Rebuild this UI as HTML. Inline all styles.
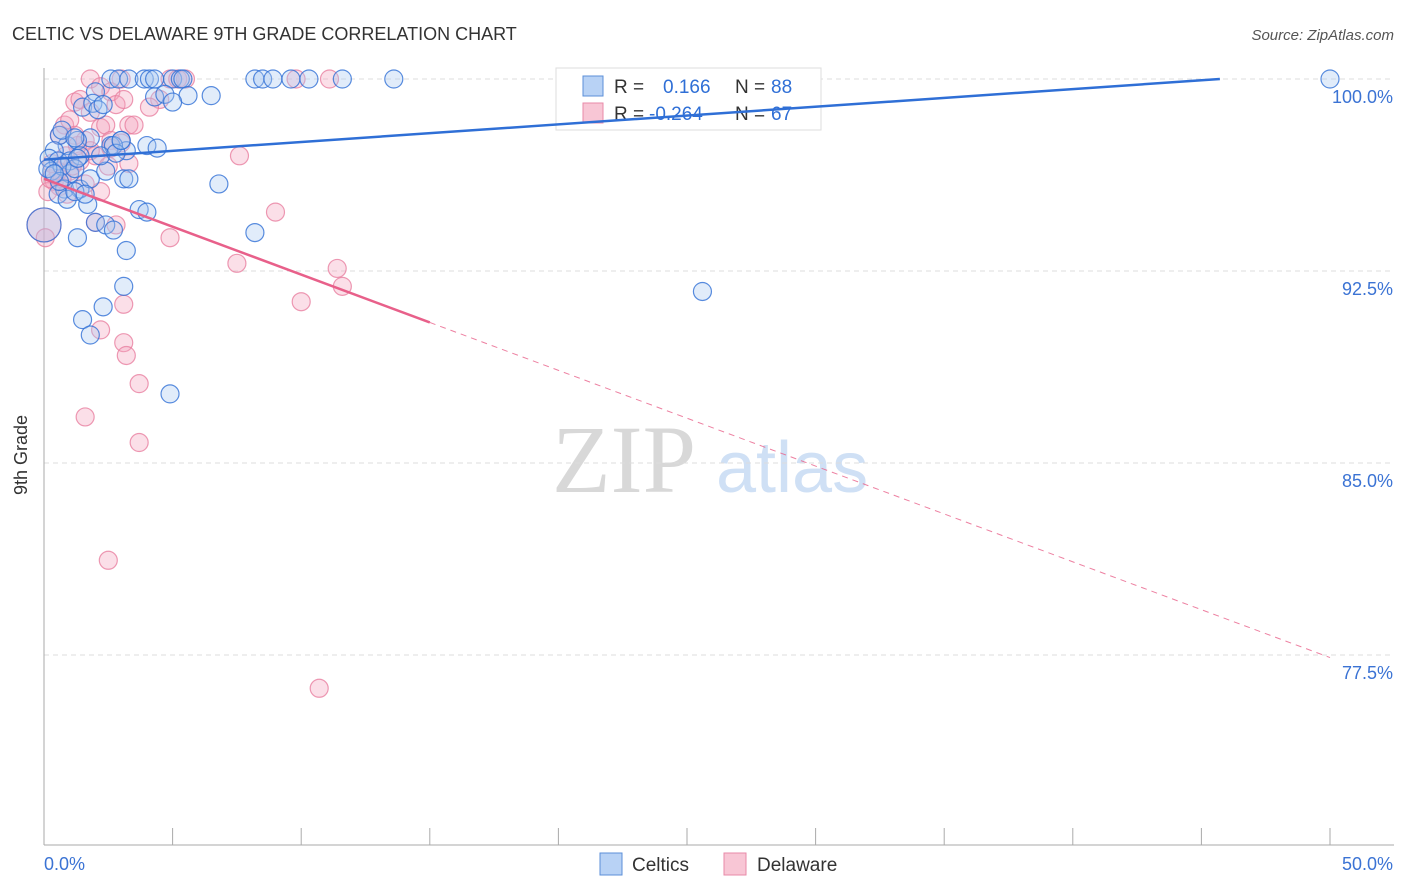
<!DOCTYPE html>
<html><head><meta charset="utf-8"><style>
body{margin:0;background:#fff;font-family:"Liberation Sans",sans-serif}
svg{display:block}
</style></head><body>
<svg id="chart" width="1406" height="892">
<text x="12" y="40" font-size="18" fill="#333">CELTIC VS DELAWARE 9TH GRADE CORRELATION CHART</text>
<text x="1394" y="40" font-size="15" fill="#555" font-style="italic" text-anchor="end">Source: ZipAtlas.com</text>
<g>
<text x="552" y="492" font-family="Liberation Serif,serif" font-size="96" fill="#d8d8d8">ZIP</text>
<text x="716" y="492" font-size="72" fill="#cfe0f5">atlas</text>
</g>
<g id="grid"></g>
<g id="axes"></g>
<g>
<rect x="556" y="68" width="265" height="62" fill="#fff" stroke="#ddd"/>
<rect x="583" y="76" width="20" height="20" fill="#b8d2f5" stroke="#5b8fd8"/>
<rect x="583" y="103" width="20" height="20" fill="#f8c6d5" stroke="#e88aa8"/>
<text x="614" y="93" font-size="19" fill="#333">R =</text>
<text x="663" y="93" font-size="19" fill="#2f6fd6">0.166</text>
<text x="735" y="93" font-size="19" fill="#333">N =</text>
<text x="771" y="93" font-size="19" fill="#2f6fd6">88</text>
<text x="614" y="120" font-size="19" fill="#333">R =</text>
<text x="649" y="120" font-size="19" fill="#2f6fd6">-0.264</text>
<text x="735" y="120" font-size="19" fill="#333">N =</text>
<text x="771" y="120" font-size="19" fill="#2f6fd6">67</text>
</g>
<g id="pts"></g>
<g id="lines"></g>
<text x="27" y="455" font-size="18" fill="#333" transform="rotate(-90 27 455)" text-anchor="middle">9th Grade</text>
<g>
<rect x="600" y="853" width="22" height="22" fill="#b8d2f5" stroke="#5b8fd8"/>
<text x="632" y="871" font-size="19" fill="#333">Celtics</text>
</g>
<g>
<rect x="724" y="853" width="22" height="22" fill="#f8c6d5" stroke="#e88aa8"/>
<text x="757" y="871" font-size="19" fill="#333">Delaware</text>
</g>
</svg>
<script>
const yTicks=[100,92.5,85,77.5];
const yTickLabels=["100.0%","92.5%","85.0%","77.5%"];
const xTickLabels=["0.0%","50.0%"];
const blueX=[2.6,2.9,3.3,3.9,4.1,4.3,5,5.3,5.4,8.2,8.5,8.9,9.6,10.3,11.6,13.6,50,2.0,4.3,4.7,5.6,6.5,5.0,1.5,1.9,2.1,3.0,2.6,1.8,0.9,1.3,0.6,0.4,0.2,0.55,1.0,1.4,4.0,4.4,3.2,2.7,1.0,0.8,1.4,1.8,2.4,3.1,3.3,0.55,0.9,1.7,2.0,2.4,2.7,3.7,4.0,6.8,8.2,1.3,3.2,3.1,2.3,1.5,1.8,4.9,25.6,0.0,0.3,0.7,1.2,2.2,2.8,0.6,1.2,1.6,0.15,0.4,2.3,3.0,0.7,1.2,1.3];
const blueY=[100,100,100,100,100,100,100,100,100,100,100,100,100,100,100,100,100,99.5,99.3,99.4,99.35,99.35,99.1,98.9,99.05,98.8,97.6,97.4,97.7,97.4,97.6,97.8,97.2,96.9,96.8,96.8,97.0,97.4,97.3,97.2,97.4,96.3,95.7,95.7,96.1,96.4,96.1,96.1,95.5,95.3,95.1,94.4,94.3,94.1,94.9,94.8,95.9,94.0,93.8,93.3,91.9,91.1,90.6,90.0,87.7,91.7,94.3,96.4,96.6,96.5,97.0,97.1,96.0,95.6,95.5,96.5,96.3,99.0,97.6,98.0,97.7,96.9];
const pinkX=[1.8,3.0,4.9,5.2,5.5,9.8,11.1,2.2,2.6,1.2,1.4,2.8,3.1,1.8,0.8,1.0,0.6,1.2,1.6,2.2,2.4,3.3,4.5,4.1,3.5,2.6,2.0,1.4,1.0,0.4,0.6,0.15,0.25,2.5,3.3,2.2,7.6,9.0,2.8,2.0,4.9,7.5,11.4,11.6,10.0,3.1,2.2,3.1,3.2,3.7,1.6,3.7,2.5,10.7,0.0,0.05,0.7,0.9,1.8,1.3,3.0,2.6,1.1,0.55,1.6,0.85,0.3];
const pinkY=[100,100,100,100,100,100,100,99.7,99.5,99.1,99.2,99.0,99.2,98.7,98.2,98.4,97.8,97.8,97.6,98.1,98.2,98.2,99.2,98.9,98.2,97.6,97.0,96.8,96.4,96.0,95.8,95.6,96.1,96.6,96.7,95.6,97.0,94.8,94.3,94.4,93.8,92.8,92.6,91.9,91.3,91.2,90.2,89.7,89.2,88.1,86.8,85.8,81.2,76.2,94.3,93.8,96.1,95.5,97.2,97.4,97.5,97.3,96.6,96.4,95.9,97.0,96.7];
const blueTrend=[96.85,0.0689];
const pinkTrend=[96.1,-0.374];
const X0=44,X1=1330,Y100=79,PXY=192/7.5;
const sx=v=>X0+(v/50)*(X1-X0);
const sy=v=>Y100+(100-v)*PXY;
const NS="http://www.w3.org/2000/svg";
function mk(t,a,p){const e=document.createElementNS(NS,t);for(const k in a)e.setAttribute(k,a[k]);p.appendChild(e);return e;}
const grid=document.getElementById('grid'),axes=document.getElementById('axes'),pts=document.getElementById('pts'),lines=document.getElementById('lines');
yTicks.forEach((t,i)=>{
 const l=mk('line',{x1:44,x2:1394,y1:sy(t),y2:sy(t),stroke:'#ddd','stroke-dasharray':'5,4'},grid);
 
 
 const tx=mk('text',{x:1393,y:sy(t)+24,'font-size':18,fill:'#3b73d4','text-anchor':'end'},axes);
 tx.textContent=yTickLabels[i];
 
 
});
mk('line',{x1:44,x2:44,y1:68,y2:845,stroke:'#aaa'},axes);
mk('line',{x1:44,x2:1394,y1:845,y2:845,stroke:'#aaa'},axes);
for(let i=0;i<=10;i++){const x=sx(i*5);mk('line',{x1:x,x2:x,y1:828,y2:845,stroke:'#aaa'},axes);}
const xl0=mk('text',{x:44,y:870,'font-size':18,fill:'#3b73d4'},axes);xl0.textContent=xTickLabels[0];


const xl1=mk('text',{x:1393,y:870,'font-size':18,fill:'#3b73d4','text-anchor':'end'},axes);xl1.textContent=xTickLabels[1];


function dots(xs,ys,fill,stroke,name){xs.forEach((x,i)=>{
 const big=(x<0.1&&ys[i]<94.5&&ys[i]>94);
 const c=mk('circle',{cx:sx(x),cy:sy(ys[i]),r:big?17:9,fill:fill,'fill-opacity':0.35,stroke:stroke,'stroke-opacity':0.8,'stroke-width':1.2},pts);
 
 
});}
dots(pinkX,pinkY,'#f4a3bd','#e87fa0','delaware-point');
dots(blueX,blueY,'#a9c8f0','#2f6fd6','celtics-point');
const bxEnd=(100-blueTrend[0])/blueTrend[1];
const bl=mk('line',{x1:sx(0),y1:sy(blueTrend[0]),x2:sx(bxEnd),y2:sy(100),stroke:'#2f6fd6','stroke-width':2.5},lines);


const pl=mk('line',{x1:sx(0),y1:sy(pinkTrend[0]),x2:sx(15),y2:sy(pinkTrend[0]+15*pinkTrend[1]),stroke:'#e8608a','stroke-width':2.5},lines);


const pd=mk('line',{x1:sx(15),y1:sy(pinkTrend[0]+15*pinkTrend[1]),x2:sx(50),y2:sy(pinkTrend[0]+50*pinkTrend[1]),stroke:'#e8608a','stroke-width':1,'stroke-dasharray':'6,5','stroke-opacity':0.8},lines);


</script>
</body></html>
